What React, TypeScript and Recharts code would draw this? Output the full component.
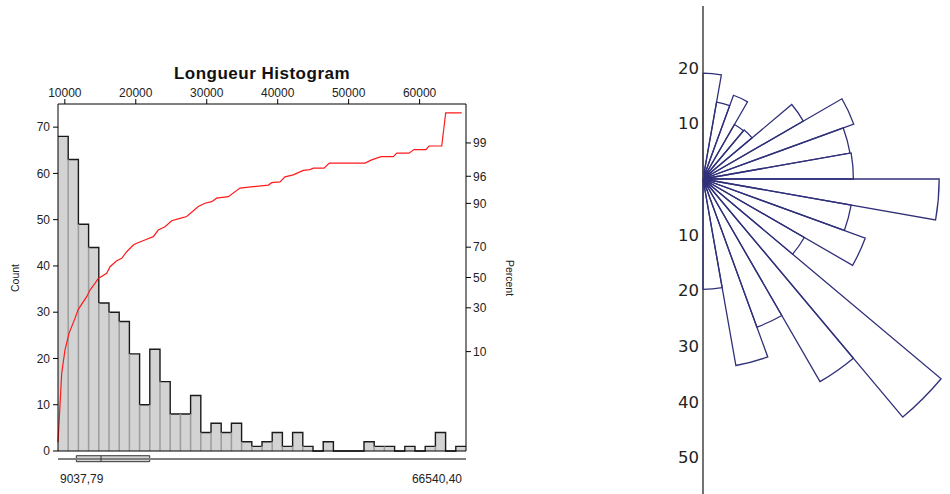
import {
  ComposedChart, Area, Line, XAxis, YAxis, ReferenceLine, ReferenceArea,
  RadialBarChart, RadialBar, PolarAngleAxis, PolarRadiusAxis,
} from "recharts";

// histogramme des longueurs
const XMIN = 9037.79;
const XMAX = 66540.4;
const binCounts = [68, 63, 49, 44, 32, 30, 28, 21, 10, 22, 15, 8, 8, 12, 4, 6, 4, 6, 2, 1,
  2, 4, 1, 4, 1, 0, 2, 0, 0, 0, 2, 1, 1, 0, 1, 0, 1, 4, 0, 1];

// courbe cumulée (pourcentage, échelle de probabilité)
const cumX = [9040, 9560, 10020, 10590, 11430, 11900, 13080, 13550, 14250, 14720,
  15900, 16370, 17310, 18020, 18720, 19650, 20130, 21540, 22470, 23170,
  24120, 25060, 26230, 27180, 28810, 29760, 30700, 31400, 33040, 34690,
  36560, 38680, 39160, 40330, 41030, 42200, 43610, 44550, 45020, 46530,
  47280, 52310, 53250, 54560, 56300, 56780, 58510, 59210, 60900, 61330,
  63120, 63680, 65940];
const cumPct = [0.22, 4.9, 10.5, 16.7, 24, 29.1, 37, 41.4, 46, 49.4,
  52.9, 57.4, 61.4, 63, 67.2, 71.3, 72.3, 74.6, 76, 79.4,
  81, 83.7, 84.7, 85.4, 89, 90.05, 90.5, 91.5, 91.9, 93.9,
  94.2, 94.5, 94.95, 95.1, 95.9, 96.2, 96.8, 96.9, 97.06, 97.06,
  97.6, 97.6, 97.9, 98.17, 98.17, 98.42, 98.42, 98.65, 98.65, 98.85,
  98.85, 99.78, 99.78];

// boîte à moustaches : min, q1, médiane, q3, max
const boxStats = [XMIN, 11620, 15100, 21960, XMAX];

const topTicks = [10000, 20000, 30000, 40000, 50000, 60000];
const countTicks = [0, 10, 20, 30, 40, 50, 60, 70];
const pctTicks = [10, 30, 50, 70, 90, 96, 99];

// rose (secteurs de 10°, du nord vers le sud)
const roseDirs = ["0", "10", "20", "30", "40", "50", "60", "70", "80",
  "90", "100", "110", "120", "130", "140", "150", "160", "170"];
const roseLens = [19, 14, 16, 11.3, 11.5, 20.8, 28.8, 26.8, 27, 42.4,
  27, 31, 21, 55.8, 42, 28.3, 34, 19.8];
const roseUpTicks = [10, 20];
const roseDownTicks = [10, 20, 30, 40, 50];

const ROSE_MAX = 60;
const ROSE_PX = 5.57;

function probit(p: number): number {
  const a = [-39.69683028665376, 220.9460984245205, -275.9285104469687, 138.357751867269, -30.66479806614716, 2.506628277459239];
  const b = [-54.47609879822406, 161.5858368580409, -155.6989798598866, 66.80131188771972, -13.28068155288572];
  const c = [-0.007784894002430293, -0.3223964580411365, -2.400758277161838, -2.549732539343734, 4.374664141464968, 2.938163982698783];
  const d = [0.007784695709041462, 0.3224671290700398, 2.445134137142996, 3.754408661907416];
  const lo = 0.02425;
  if (p < lo) {
    const q = Math.sqrt(-2 * Math.log(p));
    return (((((c[0] * q + c[1]) * q + c[2]) * q + c[3]) * q + c[4]) * q + c[5]) / ((((d[0] * q + d[1]) * q + d[2]) * q + d[3]) * q + 1);
  }
  if (p > 1 - lo) {
    const q = Math.sqrt(-2 * Math.log(1 - p));
    return -(((((c[0] * q + c[1]) * q + c[2]) * q + c[3]) * q + c[4]) * q + c[5]) / ((((d[0] * q + d[1]) * q + d[2]) * q + d[3]) * q + 1);
  }
  const q = p - 0.5;
  const r = q * q;
  return (((((a[0] * r + a[1]) * r + a[2]) * r + a[3]) * r + a[4]) * r + a[5]) * q / (((((b[0] * r + b[1]) * r + b[2]) * r + b[3]) * r + b[4]) * r + 1);
}

const binW = (XMAX - XMIN) / binCounts.length;
const histRows = [
  ...binCounts.map((c, i) => ({ x: XMIN + i * binW, count: c })),
  { x: XMAX, count: binCounts[binCounts.length - 1] },
];
const cumRows = cumX.map((x, i) => ({ x, z: probit(cumPct[i] / 100) }));
const zTicks = pctTicks.map((p) => probit(p / 100));
// l'axe angulaire va du sud vers le nord : on inverse l'ordre
const roseRows = roseDirs.map((dir, i) => ({ dir, len: roseLens[i] })).reverse();

const fmtComma = (v: number) => v.toFixed(2).replace(".", ",");

const tickStyle = { fill: "#222", fontSize: 12 };

const EndLabel = (p: any) => {
  const first = p.payload.value === XMIN;
  return (
    <text x={first ? p.x + 2 : p.x - 4} y={p.y + 32} textAnchor={first ? "start" : "end"} fontSize={12} fill="#222">
      {fmtComma(p.payload.value)}
    </text>
  );
};

const roseTick = (shown: number[]) => (p: any) =>
  shown.includes(p.payload.value) ? (
    <text x={p.x - 4} y={p.y} dy="0.36em" textAnchor="end" fontSize={16.5} fill="#222" fontFamily="DejaVu Sans, sans-serif">
      {p.payload.value}
    </text>
  ) : <g />;

function RoseLayer({ angle, labels, petals }: { angle: number; labels: number[]; petals: boolean }) {
  // les secteurs sont tracés vers les angles décroissants depuis la position de bande,
  // d'où le décalage de 10° de la plage angulaire
  return (
    <RadialBarChart width={290} height={488} data={roseRows} layout="centric" cx={43} cy={173}
      innerRadius={0} outerRadius={ROSE_MAX * ROSE_PX} startAngle={-80} endAngle={100}
      barCategoryGap={0} margin={{ top: 0, right: 0, bottom: 0, left: 0 }}>
      <PolarAngleAxis type="category" dataKey="dir" tick={false} axisLine={false} tickLine={false} />
      <PolarRadiusAxis type="number" domain={[0, ROSE_MAX]} angle={angle} ticks={[0, ...labels, ROSE_MAX]}
        tick={roseTick(labels)} axisLine={{ stroke: "#444", strokeWidth: 1.5 }} tickLine={false} />
      <RadialBar dataKey="len" fill="none" stroke={petals ? "#30307a" : "none"} strokeWidth={1.3} isAnimationActive={false} />
    </RadialBarChart>
  );
}

export default function App() {
  return (
    <div style={{ position: "absolute", left: 0, top: 0, width: 950, height: 494, background: "#fff", fontFamily: "Liberation Sans, Arial, sans-serif", overflow: "hidden" }}>
      <div style={{ position: "absolute", left: 58, width: 408, top: 65, textAlign: "center", fontSize: 17, fontWeight: "bold", lineHeight: "17px", letterSpacing: 0.5, color: "#111" }}>
        Longueur Histogram
      </div>
      <div style={{ position: "absolute", left: 15, top: 277.5, transform: "translate(-50%, -50%) rotate(-90deg)", fontSize: 10.5, lineHeight: 1, whiteSpace: "nowrap", color: "#222" }}>
        Count
      </div>
      <div style={{ position: "absolute", left: 510, top: 278, transform: "translate(-50%, -50%) rotate(90deg)", fontSize: 10.5, lineHeight: 1, whiteSpace: "nowrap", color: "#222" }}>
        Percent
      </div>

      <div style={{ position: "absolute", left: 0, top: 0 }}>
        <ComposedChart width={520} height={494} data={histRows} margin={{ top: 84, right: 14, bottom: 3, left: 18 }}>
          <XAxis xAxisId="top" orientation="top" type="number" dataKey="x" domain={[XMIN, XMAX]} ticks={topTicks} interval={0}
            height={20} tickSize={5} tickMargin={2} axisLine={{ stroke: "#000" }} tickLine={{ stroke: "#000" }} tick={tickStyle} />
          <XAxis xAxisId="bottom" orientation="bottom" type="number" dataKey="x" domain={[XMIN, XMAX]} ticks={[XMIN, XMAX]} interval={0}
            height={40} tickSize={0} tickMargin={0} axisLine={{ stroke: "#000" }} tickLine={false} tick={EndLabel} />
          <YAxis yAxisId="count" orientation="left" type="number" domain={[0, 75]} ticks={countTicks} interval={0}
            width={40} tickSize={5} tickMargin={3} axisLine={{ stroke: "#000" }} tickLine={{ stroke: "#000" }} tick={tickStyle} />
          <YAxis yAxisId="pct" orientation="right" type="number" domain={[-3, 3]} ticks={zTicks} interval={0}
            tickFormatter={(_v: number, i: number) => String(pctTicks[i])}
            width={40} tickSize={5} tickMargin={2} axisLine={{ stroke: "#000" }} tickLine={{ stroke: "#000" }} tick={tickStyle} />

          <Area xAxisId="top" yAxisId="count" type="stepAfter" dataKey="count" fill="#d3d3d3" fillOpacity={1}
            stroke="#1a1a1a" strokeWidth={1.4} dot={false} activeDot={false} isAnimationActive={false} />

          {binCounts.slice(1).map((c, i) => {
            const h = Math.min(c, binCounts[i]);
            const ex = XMIN + (i + 1) * binW;
            return h > 0 ? (
              <ReferenceLine key={"e" + i} xAxisId="top" yAxisId="count"
                segment={[{ x: ex, y: 0 }, { x: ex, y: h }]} stroke="#9c9c9c" strokeWidth={1.5} />
            ) : null;
          })}

          <ReferenceLine xAxisId="top" yAxisId="count" ifOverflow="visible"
            segment={[{ x: boxStats[0], y: -1.73 }, { x: boxStats[4], y: -1.73 }]} stroke="#808080" strokeWidth={2} />
          <ReferenceArea xAxisId="top" yAxisId="count" ifOverflow="visible" x1={boxStats[1]} x2={boxStats[3]} y1={-1.02} y2={-2.31}
            fill="#d3d3d3" fillOpacity={1} stroke="#333" strokeWidth={1} />
          <ReferenceLine xAxisId="top" yAxisId="count" ifOverflow="visible"
            segment={[{ x: boxStats[2], y: -1.02 }, { x: boxStats[2], y: -2.31 }]} stroke="#333" strokeWidth={1} />

          <Line xAxisId="top" yAxisId="pct" data={cumRows} dataKey="z" type="linear" stroke="#ff1a1a" strokeWidth={1.2}
            dot={false} activeDot={false} isAnimationActive={false} />
        </ComposedChart>
      </div>

      <div style={{ position: "absolute", left: 660, top: 6 }}>
        <RoseLayer angle={-90} labels={roseDownTicks} petals={false} />
      </div>
      <div style={{ position: "absolute", left: 660, top: 6 }}>
        <RoseLayer angle={90} labels={roseUpTicks} petals={true} />
      </div>
    </div>
  );
}
